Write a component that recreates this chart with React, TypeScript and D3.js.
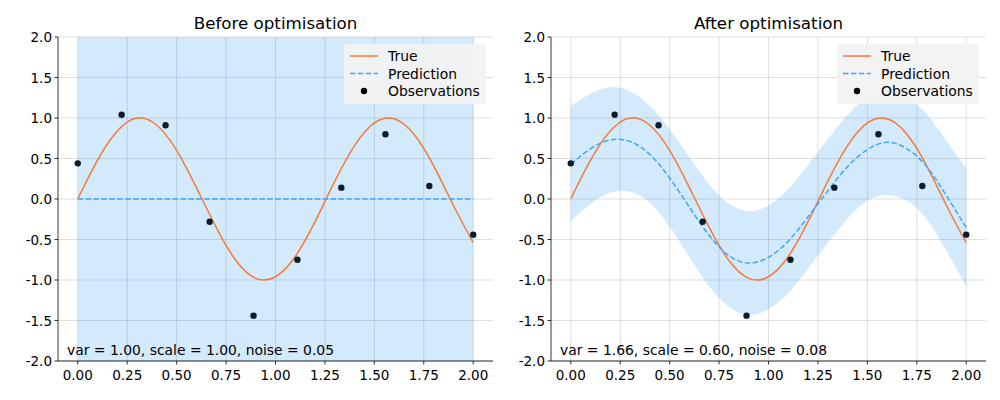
import React from "react";
import * as d3 from "d3";

const gridX = [0, 0.1, 0.2, 0.3, 0.4, 0.5, 0.6, 0.7, 0.8, 0.9, 1.0, 1.1, 1.2, 1.3, 1.4, 1.5, 1.6, 1.7, 1.8, 1.9, 2.0];
const trueY = [0, 0.48, 0.84, 1.0, 0.91, 0.6, 0.14, -0.35, -0.76, -0.98, -0.96, -0.71, -0.28, 0.22, 0.66, 0.94, 0.99, 0.8, 0.41, -0.08, -0.54];
const obsX = [0, 0.222, 0.444, 0.667, 0.889, 1.111, 1.333, 1.556, 1.778, 2.0];
const obsY = [0.44, 1.04, 0.91, -0.28, -1.44, -0.75, 0.14, 0.8, 0.16, -0.44];
const predBefore = gridX.map(() => 0);
const upperBefore = gridX.map(() => 3);
const lowerBefore = gridX.map(() => -3);
const predAfter = [0.43, 0.62, 0.73, 0.71, 0.55, 0.26, -0.1, -0.45, -0.7, -0.79, -0.72, -0.52, -0.22, 0.1, 0.4, 0.61, 0.7, 0.62, 0.4, 0.04, -0.35];
const upperAfter = [1.15, 1.3, 1.38, 1.33, 1.15, 0.86, 0.52, 0.18, -0.06, -0.15, -0.08, 0.12, 0.42, 0.74, 1.04, 1.26, 1.34, 1.26, 1.05, 0.72, 0.38];
const lowerAfter = [-0.28, -0.06, 0.08, 0.09, -0.05, -0.34, -0.72, -1.08, -1.33, -1.43, -1.36, -1.16, -0.86, -0.54, -0.24, -0.02, 0.05, -0.02, -0.25, -0.64, -1.08];
const xTicks = [0, 0.25, 0.5, 0.75, 1.0, 1.25, 1.5, 1.75, 2.0];
const yTicks = [-2, -1.5, -1, -0.5, 0, 0.5, 1, 1.5, 2];

const font = "DejaVu Sans, sans-serif";

function Panel({ left, title, pred, upper, lower, label }: any) {
  const x = d3.scaleLinear().domain([-0.1, 2.1]).range([left, left + 435]);
  const y = d3.scaleLinear().domain([-2, 2]).range([361, 37]);
  const line = d3.line<number>().x((_, i) => x(gridX[i])).y((d) => y(d)).curve(d3.curveNatural);
  const area = d3.area<number>().x((_, i) => x(gridX[i])).y0((_, i) => y(lower[i])).y1((d) => y(d)).curve(d3.curveNatural);
  const clip = `clip${left}`;
  const lx = left + 286;
  return (
    <g fontFamily={font}>
      <defs><clipPath id={clip}><rect x={left} y={37} width={435} height={324} /></clipPath></defs>
      {xTicks.map((t) => <line key={"gx" + t} x1={x(t)} x2={x(t)} y1={37} y2={361} stroke="#b0b0b0" strokeOpacity={0.5} strokeWidth={0.8} />)}
      {yTicks.map((t) => <line key={"gy" + t} x1={left} x2={left + 435} y1={y(t)} y2={y(t)} stroke="#b0b0b0" strokeOpacity={0.5} strokeWidth={0.8} />)}
      <g clipPath={`url(#${clip})`}>
        <path d={area(upper) || ""} fill="#2196f3" fillOpacity={0.2} />
        <path d={line(trueY) || ""} fill="none" stroke="#f47a3a" strokeWidth={1.5} />
        <path d={line(pred) || ""} fill="none" stroke="#42a5f5" strokeWidth={1.5} strokeDasharray="5.5,2.4" />
        {obsX.map((v, i) => <circle key={i} cx={x(v)} cy={y(obsY[i])} r={3.2} fill="#0d1b2a" />)}
      </g>
      <line x1={left} x2={left} y1={37} y2={361} stroke="#000" strokeWidth={0.8} />
      <line x1={left} x2={left + 435} y1={361} y2={361} stroke="#000" strokeWidth={0.8} />
      {xTicks.map((t) => (
        <g key={"xt" + t}>
          <line x1={x(t)} x2={x(t)} y1={361} y2={364.5} stroke="#000" strokeWidth={0.8} />
          <text x={x(t)} y={380} textAnchor="middle" fontSize={13.5}>{t.toFixed(2)}</text>
        </g>
      ))}
      {yTicks.map((t) => (
        <g key={"yt" + t}>
          <line x1={left - 3.5} x2={left} y1={y(t)} y2={y(t)} stroke="#000" strokeWidth={0.8} />
          <text x={left - 6} y={y(t) + 5} textAnchor="end" fontSize={13.5}>{t.toFixed(1)}</text>
        </g>
      ))}
      <text x={left + 217.5} y={29} textAnchor="middle" fontSize={16.7}>{title}</text>
      <text x={left + 9} y={355} fontSize={13.9}>{label}</text>
      <rect x={lx} y={44} width={142} height={60} rx={2} fill="#f2f2f2" fillOpacity={0.95} />
      <line x1={lx + 6} x2={lx + 34} y1={56} y2={56} stroke="#f47a3a" strokeWidth={1.5} />
      <line x1={lx + 6} x2={lx + 34} y1={73.5} y2={73.5} stroke="#42a5f5" strokeWidth={1.5} strokeDasharray="5.5,2.4" />
      <circle cx={lx + 20} cy={91} r={3.2} fill="#000" />
      <text x={lx + 44} y={61} fontSize={13.9}>True</text>
      <text x={lx + 44} y={78.5} fontSize={13.9}>Prediction</text>
      <text x={lx + 44} y={96} fontSize={13.9}>Observations</text>
    </g>
  );
}

export default function App() {
  return (
    <svg width={1000} height={400} style={{ position: "absolute", left: 0, top: 0, background: "#fff" }}>
      <Panel left={58} title="Before optimisation" pred={predBefore} upper={upperBefore} lower={lowerBefore} label="var = 1.00, scale = 1.00, noise = 0.05" />
      <Panel left={551} title="After optimisation" pred={predAfter} upper={upperAfter} lower={lowerAfter} label="var = 1.66, scale = 0.60, noise = 0.08" />
    </svg>
  );
}
